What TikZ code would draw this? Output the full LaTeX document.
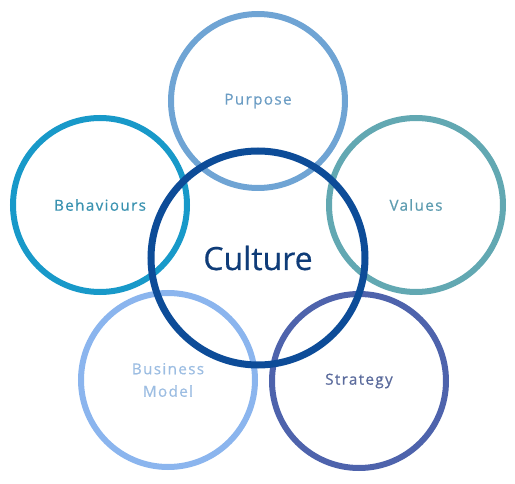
\documentclass[tikz,border=0pt]{standalone}
\usepackage{fontspec}
\setmainfont{Open Sans}
\newfontfamily\labelfont[LetterSpace=9,FakeBold=0.6]{Open Sans}
\newfontfamily\corefont[FakeBold=0.5]{Open Sans}
\definecolor{cPurpose}{HTML}{6FA4D4}
\definecolor{tPurpose}{HTML}{6C9DC4}
\definecolor{cBehav}{HTML}{1899C9}
\definecolor{tBehav}{HTML}{3A92B0}
\definecolor{cValues}{HTML}{62A8B2}
\definecolor{tValues}{HTML}{5E9CB0}
\definecolor{cBiz}{HTML}{8BB5EE}
\definecolor{tBiz}{HTML}{9CBDE2}
\definecolor{cStrat}{HTML}{4E63AC}
\definecolor{tStrat}{HTML}{5B6B9C}
\definecolor{cCult}{HTML}{0D4C98}
\definecolor{tCult}{HTML}{0F3C78}
\tikzset{
  ring/.style={circle, draw=#1, line width=6pt, inner sep=0pt, minimum size=174pt,
    font=\labelfont\fontsize{15.2}{22.5}\selectfont, align=center},
  core/.style={circle, draw=cCult, line width=7pt, inner sep=0pt, minimum size=214pt,
    text=tCult, font=\corefont\fontsize{32}{36}\selectfont}
}
\begin{document}
\begin{tikzpicture}[x=1pt,y=-1pt]
\useasboundingbox (0,0) rectangle (515,484);
\node[ring=cPurpose, text=tPurpose] (purpose) at (258,101) {Purpose};
\node[ring=cBehav, text=tBehav] (behav) at (100,205) {Behaviours};
\node[ring=cValues, text=tValues] (values) at (416,205) {Values};
\node[ring=cBiz, text=tBiz] (biz) at (168,380) {Business\\Model};
\node[ring=cStrat, text=tStrat] (strat) at (359,381) {Strategy};
\node[core] (culture) at (258,258) {Culture};
\end{tikzpicture}
\end{document}
